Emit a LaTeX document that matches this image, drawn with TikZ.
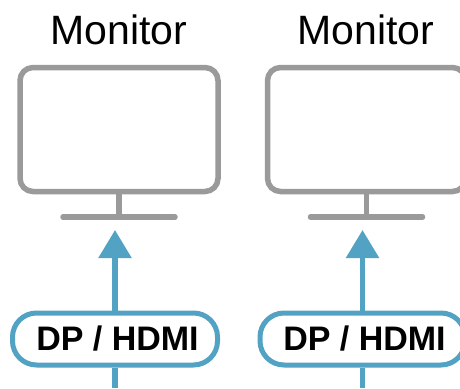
\documentclass[tikz,border=0pt]{standalone}
\usepackage{fontspec}
\setmainfont{Liberation Sans}
\usetikzlibrary{arrows.meta}
\definecolor{mongray}{HTML}{9A9A9A}
\definecolor{linkblue}{HTML}{52A2C4}
\tikzset{
  screenbox/.style={draw=mongray,line width=5.5pt,rounded corners=13pt,minimum width=198pt,minimum height=124pt,inner sep=0pt,fill=white},
  standline/.style={draw=mongray,line width=5.5pt},
  baseline/.style={draw=mongray,line width=5.5pt,line cap=round},
  title/.style={font=\fontsize{41pt}{46pt}\selectfont,text=black,inner sep=0pt},
  pill/.style={draw=linkblue,line width=5pt,rounded corners=24pt,minimum width=205pt,minimum height=52pt,inner sep=0pt,fill=white,font=\fontsize{34pt}{38pt}\selectfont\bfseries},
  linkline/.style={draw=linkblue,line width=5.5pt},
  linkarrow/.style={draw=linkblue,line width=5.5pt,-{Triangle[length=28pt,width=32pt,fill=linkblue]}}
}
\begin{document}
\begin{tikzpicture}[x=1pt,y=-1pt]
\useasboundingbox (0,0) rectangle (460,388);
\clip (0,0) rectangle (460,388);
% left
\node[title] (t1) at (118.8,30) {Monitor};
\node[screenbox] (m1) at (119,129.5) {};
\coordinate (b1l) at (63,217);
\coordinate (b1r) at (175,217);
\coordinate (b1c) at (119,217);
\draw[standline] (m1.south) -- (b1c);
\draw[baseline] (b1l) -- (b1r);
\node[pill] (p1) at (115,339) {\hspace*{5pt}DP / HDMI};
\coordinate (a1) at (115,230);
\coordinate (e1) at (115,388);
\draw[linkarrow] (p1.north) -- (a1);
\draw[linkline] (p1.south) -- (e1);
% right
\node[title] (t2) at (366,30) {Monitor};
\node[screenbox] (m2) at (366.5,129.5) {};
\coordinate (b2l) at (310.5,217);
\coordinate (b2r) at (422.5,217);
\coordinate (b2c) at (366.5,217);
\draw[standline] (m2.south) -- (b2c);
\draw[baseline] (b2l) -- (b2r);
\node[pill] (p2) at (362.5,339) {\hspace*{4pt}DP / HDMI};
\coordinate (a2) at (362.5,230);
\coordinate (e2) at (362.5,388);
\draw[linkarrow] (p2.north) -- (a2);
\draw[linkline] (p2.south) -- (e2);
\end{tikzpicture}
\end{document}
